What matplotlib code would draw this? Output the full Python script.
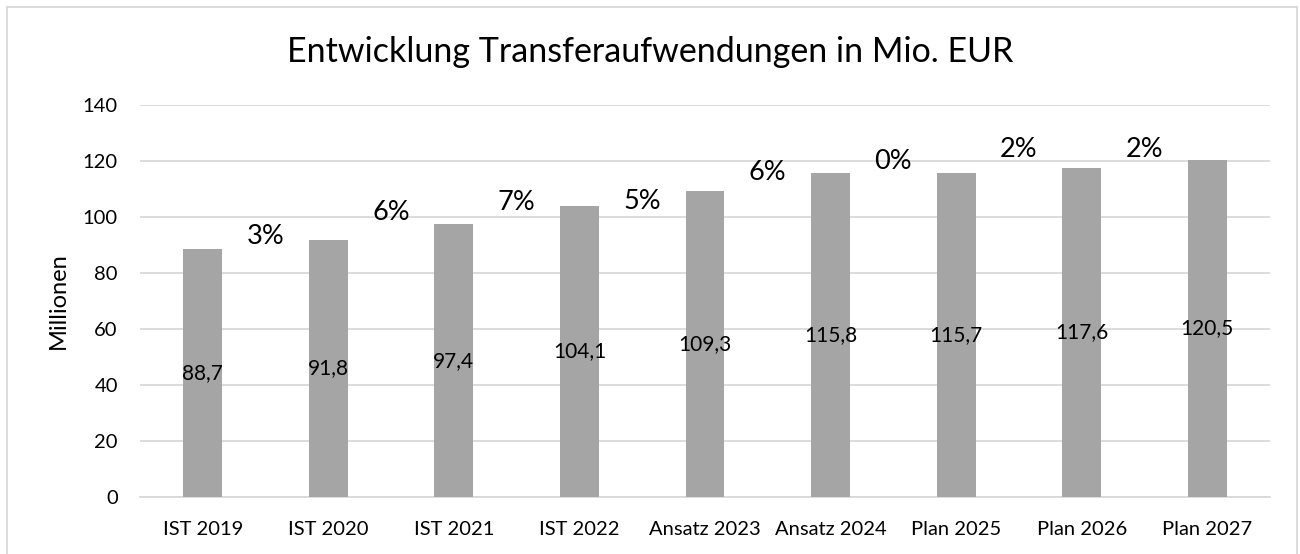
import matplotlib
matplotlib.use("Agg")
import matplotlib.pyplot as plt
from matplotlib.lines import Line2D
import numpy as np

plt.rcParams['font.family'] = ['Lato', 'DejaVu Sans']

categories = ["IST 2019", "IST 2020", "IST 2021", "IST 2022", "Ansatz 2023",
              "Ansatz 2024", "Plan 2025", "Plan 2026", "Plan 2027"]
values = [88.7, 91.8, 97.4, 104.1, 109.3, 115.8, 115.7, 117.6, 120.5]
value_labels = ["88,7", "91,8", "97,4", "104,1", "109,3", "115,8", "115,7", "117,6", "120,5"]
pct_labels = ["3%", "6%", "7%", "5%", "6%", "0%", "2%", "2%"]
pct_heights = [93.0, 101.6, 105.2, 105.5, 115.9, 119.9, 124.1, 124.1]

fig = plt.figure(figsize=(13, 5.54), dpi=100)
ax = fig.add_axes([140/1300, 1-497/554, (1270-140)/1300, (497-105)/554])

x = np.arange(len(categories))
ax.bar(x, values, width=0.31, color="#A5A5A5", zorder=3)
ax.set_xlim(-0.5, len(categories)-0.5)
ax.set_ylim(0, 140)
ax.set_yticks(np.arange(0, 141, 20))
ax.set_xticks(x)
ax.set_xticklabels(categories, fontsize=14.5, color="#000000")
ax.tick_params(axis='y', labelsize=14.5, length=0, pad=16)
ax.tick_params(axis='x', length=0, pad=17)
ax.grid(axis='y', color="#D9D9D9", linewidth=1.3, zorder=0)
for s in ["top", "right", "left"]:
    ax.spines[s].set_visible(False)
ax.spines["bottom"].set_color("#D9D9D9")
ax.spines["bottom"].set_linewidth(1.3)

for xi, v, lab in zip(x, values, value_labels):
    ax.text(xi, v/2, lab, ha="center", va="center", fontsize=15, zorder=4)

for i, (lab, h) in enumerate(zip(pct_labels, pct_heights)):
    ax.text(i + 0.5, h, lab, ha="center", va="center", fontsize=19.5, zorder=4)

ax.set_ylabel("Millionen", fontsize=17, labelpad=10)
fig.text(0.5, 1-52/554, "Entwicklung Transferaufwendungen in Mio. EUR",
         ha="center", va="center", fontsize=24.5)

# chart frame
fc = "#D9D9D9"
fig.add_artist(Line2D([7/1300, 7/1300], [0, 1-7/554], color=fc, lw=1.3, transform=fig.transFigure))
fig.add_artist(Line2D([7/1300, 1297/1300], [1-7/554, 1-7/554], color=fc, lw=1.3, transform=fig.transFigure))
fig.add_artist(Line2D([1297/1300, 1297/1300], [0, 1-7/554], color=fc, lw=1.3, transform=fig.transFigure))

fig.savefig("out.png", dpi=100)
